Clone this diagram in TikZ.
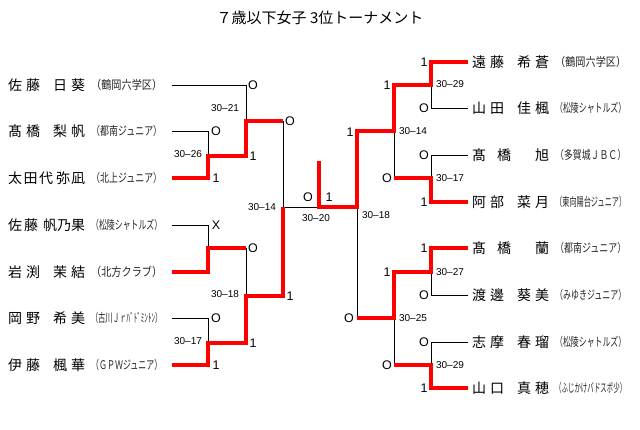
\documentclass[tikz,border=0pt]{standalone}
\usepackage{fontspec}
\usepackage{graphicx}
\setmainfont{Liberation Sans}
\newfontfamily\jp{Noto Sans CJK JP}
\newcommand\pnm[4]{\makebox[77pt][s]{\makebox[#1][s]{#2}\hfill\makebox[#3][s]{#4}}}
\newcommand\clb[1]{\resizebox{71pt}{\height}{\jp\fontsize{12}{12}\selectfont #1}}
\tikzset{
  blk/.style={draw=black, line width=0.9pt},
  win/.style={draw=red, line width=3.2pt},
  res/.style={font=\fontsize{12.5}{12.5}\selectfont, inner sep=0},
  sc/.style={font=\fontsize{10}{10}\selectfont, inner sep=0},
  pn/.style={font=\jp\fontsize{14}{14}\selectfont, inner sep=0, anchor=west},
  club/.style={inner sep=0, anchor=west, text=black!85},
  ttl/.style={font=\jp\fontsize{15}{15}\selectfont, inner sep=0}
}
\begin{document}
\begin{tikzpicture}[x=1pt,y=-1pt]
\fill[white] (0,0) rectangle (640,429);
\useasboundingbox (0,0) rectangle (640,429);

\node[ttl] (title) at (320,18) {７歳以下女子 3位トーナメント};

% left players
\node[pn] (n1) at (8,85)  {\pnm{32pt}{佐\hfill 藤}{32pt}{日\hfill 葵}};
\node[pn] (n2) at (8,131) {\pnm{32pt}{髙\hfill 橋}{32pt}{梨\hfill 帆}};
\node[pn] (n3) at (8,178) {\pnm{45pt}{太\hfill 田\hfill 代}{29pt}{弥\hfill 凪}};
\node[pn] (n4) at (8,225) {\pnm{30pt}{佐\hfill 藤}{42pt}{帆\hfill 乃\hfill 果}};
\node[pn] (n5) at (8,272) {\pnm{32pt}{岩\hfill 渕}{32pt}{茉\hfill 結}};
\node[pn] (n6) at (8,318) {\pnm{32pt}{岡\hfill 野}{32pt}{希\hfill 美}};
\node[pn] (n7) at (8,365) {\pnm{32pt}{伊\hfill 藤}{32pt}{楓\hfill 華}};
\node[club] (c1) at (91,85)  {\clb{（鶴岡六学区）}};
\node[club] (c2) at (91,131) {\clb{（都南ジュニア）}};
\node[club] (c3) at (91,178) {\clb{（北上ジュニア）}};
\node[club] (c4) at (91,225) {\clb{（松陵シャトルズ）}};
\node[club] (c5) at (91,272) {\clb{（北方クラブ）}};
\node[club] (c6) at (91,318) {\clb{（古川Ｊｒﾊﾞﾄﾞﾐﾝﾄﾝ）}};
\node[club] (c7) at (91,365) {\clb{（ＧＰＷジュニア）}};

% right players
\node[pn] (m1) at (472,62)  {\pnm{32pt}{遠\hfill 藤}{32pt}{希\hfill 蒼}};
\node[pn] (m2) at (472,108) {\pnm{32pt}{山\hfill 田}{32pt}{佳\hfill 楓}};
\node[pn] (m3) at (472,155) {\pnm{39pt}{髙\hfill 橋}{14pt}{\hfill 旭}};
\node[pn] (m4) at (472,202) {\pnm{32pt}{阿\hfill 部}{32pt}{菜\hfill 月}};
\node[pn] (m5) at (472,248) {\pnm{39pt}{髙\hfill 橋}{14pt}{\hfill 蘭}};
\node[pn] (m6) at (472,295) {\pnm{32pt}{渡\hfill 邊}{32pt}{葵\hfill 美}};
\node[pn] (m7) at (472,342) {\pnm{32pt}{志\hfill 摩}{32pt}{春\hfill 瑠}};
\node[pn] (m8) at (472,388) {\pnm{32pt}{山\hfill 口}{32pt}{真\hfill 穂}};
\node[club] (d1) at (555,62)  {\clb{（鶴岡六学区）}};
\node[club] (d2) at (555,108) {\clb{（松陵シャトルズ）}};
\node[club] (d3) at (555,155) {\clb{（多賀城ＪＢＣ）}};
\node[club] (d4) at (555,202) {\clb{（東向陽台ジュニア）}};
\node[club] (d5) at (555,248) {\clb{（都南ジュニア）}};
\node[club] (d6) at (555,295) {\clb{（みゆきジュニア）}};
\node[club] (d7) at (555,342) {\clb{（松陵シャトルズ）}};
\node[club] (d8) at (555,388) {\clb{（ふじかけバドスポ少）}};

% line coordinates
\coordinate (p1) at (172,85);  \coordinate (p2) at (172,131);
\coordinate (p3) at (172,178); \coordinate (p4) at (172,225);
\coordinate (p5) at (172,272); \coordinate (p6) at (172,318);
\coordinate (p7) at (172,365);
\coordinate (jA) at (208,156); \coordinate (jB) at (246,121);
\coordinate (jC) at (208,248); \coordinate (jE) at (208,343);
\coordinate (jD) at (246,296); \coordinate (jF) at (283,207);
\coordinate (jG) at (319,207); \coordinate (champ) at (319,161);
\coordinate (q1) at (468,62);  \coordinate (q2) at (468,108);
\coordinate (q3) at (468,155); \coordinate (q4) at (468,202);
\coordinate (q5) at (468,248); \coordinate (q6) at (468,295);
\coordinate (q7) at (468,342); \coordinate (q8) at (468,388);
\coordinate (ka) at (431,85);  \coordinate (kb) at (431,178);
\coordinate (kc) at (394,131); \coordinate (kd) at (431,272);
\coordinate (ke) at (431,365); \coordinate (kf) at (394,318);
\coordinate (kg) at (357,207);

% black lines
\draw[blk] (p2) -| (jA);
\draw[blk] (p1) -| (jB);
\draw[blk] (p4) -| (jC);
\draw[blk] (p6) -| (jE);
\draw[blk] (jC -| jD) -- (jD);
\draw[blk] (jB -| jF) -- (jF) -- (jG);
\draw[blk] (q2) -| (ka);
\draw[blk] (q3) -| (kb);
\draw[blk] (kb -| kc) -- (kc);
\draw[blk] (q6) -| (kd);
\draw[blk] (q7) -| (ke);
\draw[blk] (ke -| kf) -- (kf);
\draw[blk] (kf -| kg) -- (kg);

% red (winner) lines
\draw[win] (p3) -| (jA) -- (jA -| jB) -- (jB) -- (jB -| jF);
\draw[win] (p5) -| (jC) -- (jC -| jD);
\draw[win] (p7) -| (jE) -- (jE -| jD) -- (jD) -- (jD -| jF) -- (jF);
\draw[win] (champ) -- (jG) -- (kg) -- (kg |- kc) -- (kc) -- (kc |- ka) -- (ka) -- (ka |- q1) -- (q1);
\draw[win] (q4) -| (kb) -- (kb -| kc);
\draw[win] (q5) -| (kd) -- (kd -| kf) -- (kf) -- (kf -| kg);
\draw[win] (q8) -| (ke) -- (ke -| kf);

% results left
\node[res] (a1) at (253,85) {O};
\node[res] (a2) at (216,131) {O};
\node[res] (a3) at (216,178) {1};
\node[res] (a4) at (290,121) {O};
\node[res] (a5) at (253,156) {1};
\node[res] (a6) at (216,225) {X};
\node[res] (a7) at (253,248) {O};
\node[res] (a8) at (216,318) {O};
\node[res] (a9) at (253,343) {1};
\node[res] (a10) at (216,365) {1};
\node[res] (a11) at (290,296) {1};
\node[res] (a12) at (308,197) {O};
\node[res] (a13) at (329,197) {1};
% results right
\node[res] (b1) at (424,62) {1};
\node[res] (b2) at (424,108) {O};
\node[res] (b3) at (424,155) {O};
\node[res] (b4) at (424,202) {1};
\node[res] (b5) at (387,85) {1};
\node[res] (b6) at (387,178) {O};
\node[res] (b7) at (350,132) {1};
\node[res] (b8) at (424,248) {1};
\node[res] (b9) at (424,295) {O};
\node[res] (b10) at (424,342) {O};
\node[res] (b11) at (424,388) {1};
\node[res] (b12) at (387,272) {1};
\node[res] (b13) at (387,365) {O};
\node[res] (b14) at (349,318) {O};

% scores
\node[sc] (s1) at (225,108) {30–21};
\node[sc] (s2) at (188,154) {30–26};
\node[sc] (s3) at (262,207) {30–14};
\node[sc] (s4) at (225,294) {30–18};
\node[sc] (s5) at (188,341) {30–17};
\node[sc] (s6) at (316,218) {30–20};
\node[sc] (s7) at (376,215) {30–18};
\node[sc] (s8) at (450,84) {30–29};
\node[sc] (s9) at (413,131) {30–14};
\node[sc] (s10) at (450,178) {30–17};
\node[sc] (s11) at (450,272) {30–27};
\node[sc] (s12) at (413,318) {30–25};
\node[sc] (s13) at (450,365) {30–29};
\end{tikzpicture}
\end{document}
